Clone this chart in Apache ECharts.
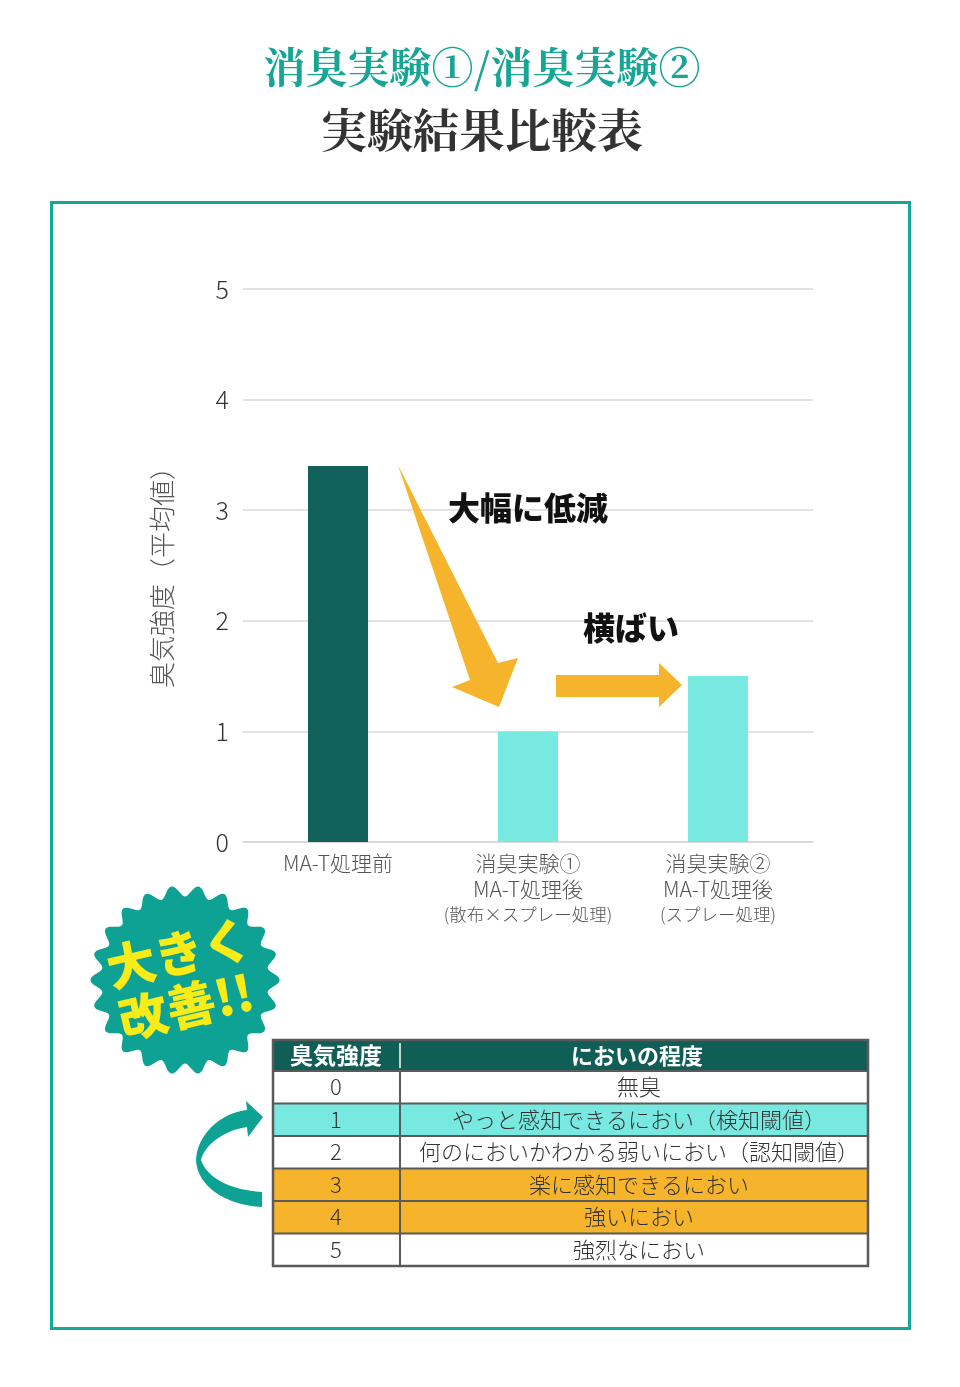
<!DOCTYPE html>
<html><head><meta charset="utf-8">
<script src="https://cdn.jsdelivr.net/npm/echarts@6/dist/echarts.min.js"></script>
<style>html,body{margin:0;padding:0;background:#fff}#c{width:960px;height:1387px}</style>
</head><body><div id="c"></div>
<script>
// ---- data ----
const catLine1 = ['MA-T処理前', '消臭実験①', '消臭実験②'];
const catLine2 = ['', 'MA-T処理後', 'MA-T処理後'];
const catLine3 = ['', '(散布×スプレー処理)', '(スプレー処理)'];
const values = [3.4, 1.0, 1.5];
const barColors = ['#11625a', '#78e9e0', '#78e9e0'];
const yMin = 0, yMax = 5, yStep = 1;
const tableHeader = ['臭気強度', 'においの程度'];
const tableLevels = ['0', '1', '2', '3', '4', '5'];
const tableDesc = ['無臭', 'やっと感知できるにおい（検知閾値）', '何のにおいかわかる弱いにおい（認知閾値）', '楽に感知できるにおい', '強いにおい', '強烈なにおい'];
const tableRowColors = ['#ffffff', '#78e9e0', '#ffffff', '#f6b42d', '#f6b42d', '#ffffff'];

const SANS = '"Noto Sans CJK JP", "Noto Sans", sans-serif';
const SERIF = '"Noto Serif CJK JP", "Noto Sans CJK JP", serif';

const chart = echarts.init(document.getElementById('c'), null, {renderer: 'canvas'});

// sample a path made of line/cubic segments into polygon points
function samplePath(start, segs) {
  const pts = [start.slice()];
  let cur = start.slice();
  segs.forEach(s => {
    if (s.length === 2) { pts.push(s.slice()); cur = s.slice(); }
    else {
      const [c1, c2, p] = s;
      for (let k = 1; k <= 16; k++) {
        const t = k / 16, u = 1 - t;
        pts.push([
          u*u*u*cur[0] + 3*u*u*t*c1[0] + 3*u*t*t*c2[0] + t*t*t*p[0],
          u*u*u*cur[1] + 3*u*u*t*c1[1] + 3*u*t*t*c2[1] + t*t*t*p[1]
        ]);
      }
      cur = p.slice();
    }
  });
  return pts;
}

// ---- graphic decorations ----
const g = [];
g.push({type: 'rect', shape: {x: 51.5, y: 202.5, width: 858, height: 1126}, style: {fill: 'none', stroke: '#13a89b', lineWidth: 3}, z: 1});
g.push({type: 'text', x: 482, y: 67, style: {text: '消臭実験①/消臭実験②', font: 'bold 42px ' + SERIF, fill: '#17a595', align: 'center', verticalAlign: 'middle'}});
g.push({type: 'text', x: 482, y: 130, style: {text: '実験結果比較表', font: 'bold 46px ' + SERIF, fill: '#333333', align: 'center', verticalAlign: 'middle'}});
g.push({type: 'polygon', shape: {points: [[398,465],[498,663],[518,658],[499,707],[452,687],[470,680]]}, style: {fill: '#f6b42d'}, z: 10});
g.push({type: 'polygon', shape: {points: [[556,675],[659,675],[659,663],[682,685],[659,707],[659,697],[556,697]]}, style: {fill: '#f6b42d'}, z: 10});
g.push({type: 'text', x: 528, y: 508, style: {text: '大幅に低減', font: '900 32px ' + SANS, fill: '#111', align: 'center', verticalAlign: 'middle'}, z: 11});
g.push({type: 'text', x: 631, y: 628, style: {text: '横ばい', font: '900 32px ' + SANS, fill: '#111', align: 'center', verticalAlign: 'middle'}, z: 11});
// badge
const badgePts = [];
for (let k = 0; k < 440; k++) {
  const t = k / 440 * Math.PI * 2;
  const r = 89 + 5.5 * Math.cos(22 * t);
  badgePts.push([185 + r * Math.cos(t), 980 + r * Math.sin(t)]);
}
g.push({type: 'polygon', shape: {points: badgePts}, style: {fill: '#0ea295'}, z: 5});
g.push({type: 'text', x: 179, y: 953, rotation: 13 * Math.PI / 180, style: {text: '大きく', font: '900 49px ' + SANS, fill: '#f8eb17', align: 'center', verticalAlign: 'middle'}, z: 6});
g.push({type: 'text', x: 186, y: 1006, rotation: 13 * Math.PI / 180, style: {text: '改善!!', font: '900 49px ' + SANS, fill: '#f8eb17', align: 'center', verticalAlign: 'middle'}, z: 6});
// curved arrow
const curvePts = samplePath([262, 1207], [
  [[225, 1205], [197, 1186], [196, 1160]],
  [[197, 1135], [220, 1113], [247, 1110]],
  [246, 1101], [263, 1117], [248, 1137], [247, 1127],
  [[225, 1130], [204, 1145], [201, 1160]],
  [[207, 1178], [230, 1190], [262, 1192]]
]);
g.push({type: 'polygon', shape: {points: curvePts}, style: {fill: '#0ea295'}, z: 5});
// table
const tX = 273, tW = 595, colX = 400, hY = 1040, hH = 31, rH = 32.5;
const c1x = 336, c2x = 639;
g.push({type: 'rect', shape: {x: tX, y: hY, width: tW, height: hH}, style: {fill: '#115e56'}, z: 5});
g.push({type: 'line', shape: {x1: colX, y1: hY + 3, x2: colX, y2: hY + hH - 3}, style: {stroke: '#ffffff', lineWidth: 1.5}, z: 6});
g.push({type: 'text', x: c1x, y: hY + hH / 2, style: {text: tableHeader[0], font: 'bold 23px ' + SANS, fill: '#fff', align: 'center', verticalAlign: 'middle'}, z: 7});
g.push({type: 'text', x: 637, y: hY + hH / 2, style: {text: tableHeader[1], font: 'bold 22px ' + SANS, fill: '#fff', align: 'center', verticalAlign: 'middle'}, z: 7});
tableLevels.forEach((lv, i) => {
  const y = hY + hH + i * rH;
  g.push({type: 'rect', shape: {x: tX, y: y, width: tW, height: rH}, style: {fill: tableRowColors[i]}, z: 5});
  g.push({type: 'line', shape: {x1: tX, y1: y, x2: tX + tW, y2: y}, style: {stroke: '#5a5a5a', lineWidth: 2}, z: 6});
  g.push({type: 'text', x: c1x, y: y + rH / 2 - 0.5, style: {text: lv, font: '300 22px ' + SANS, fill: '#333', align: 'center', verticalAlign: 'middle'}, z: 7});
  g.push({type: 'text', x: c2x, y: y + rH / 2 - 0.5, style: {text: tableDesc[i], font: '300 22px ' + SANS, fill: '#333', align: 'center', verticalAlign: 'middle'}, z: 7});
});
const tH = hH + tableLevels.length * rH;
g.push({type: 'line', shape: {x1: colX, y1: hY + hH, x2: colX, y2: hY + tH}, style: {stroke: '#5a5a5a', lineWidth: 2}, z: 6});
g.push({type: 'rect', shape: {x: tX, y: hY, width: tW, height: tH}, style: {fill: 'none', stroke: '#5a5a5a', lineWidth: 2.5}, z: 8});

const option = {
  backgroundColor: '#ffffff',
  animation: false,
  textStyle: {fontFamily: SANS},
  grid: {left: 243, right: 147, top: 289, bottom: 545, containLabel: false},
  xAxis: {
    type: 'category',
    data: catLine1,
    axisLine: {show: true, lineStyle: {color: '#d6d6d6', width: 1.5}},
    axisTick: {show: false},
    axisLabel: {
      margin: 8,
      interval: 0,
      formatter: function (v, i) {
        let s = '{a|' + catLine1[i] + '}';
        if (catLine2[i]) s += '\n{a|' + catLine2[i] + '}';
        if (catLine3[i]) s += '\n{b|' + catLine3[i] + '}';
        return s;
      },
      rich: {
        a: {fontSize: 21, lineHeight: 26, color: '#555', fontWeight: 300, fontFamily: SANS},
        b: {fontSize: 17.5, lineHeight: 24, color: '#555', fontWeight: 300, fontFamily: SANS}
      }
    }
  },
  yAxis: {
    type: 'value',
    min: yMin, max: yMax, interval: yStep,
    name: '臭気強度（平均値）',
    nameLocation: 'middle',
    nameRotate: 90,
    nameGap: 68,
    nameTextStyle: {fontSize: 26, color: '#555', fontWeight: 300, fontFamily: SANS, padding: [0, 11, 0, 0]},
    axisLine: {show: false},
    axisTick: {show: false},
    axisLabel: {fontSize: 25, color: '#333', margin: 14, fontWeight: 300, fontFamily: SANS, padding: [0, 0, 5, 0]},
    splitLine: {lineStyle: {color: '#d9d9d9', width: 1.5}}
  },
  series: [{
    type: 'bar',
    barWidth: 60,
    data: values.map((v, i) => ({value: v, itemStyle: {color: barColors[i]}})),
    z: 2
  }],
  graphic: {elements: g}
};
chart.setOption(option);
</script></body></html>
